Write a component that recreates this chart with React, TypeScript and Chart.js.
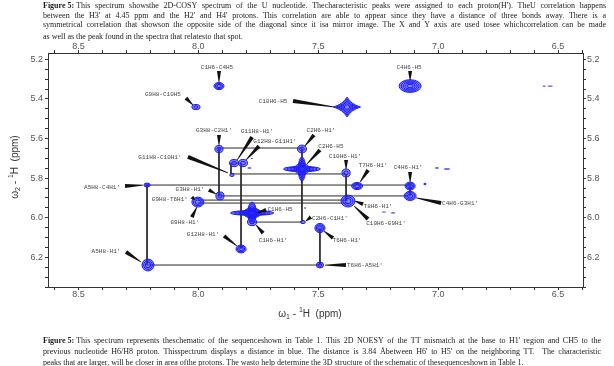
import { useEffect, useRef } from 'react';
import { Chart, registerables } from 'chart.js';
Chart.register(...registerables);

// ---------- axes ----------
const X_MAJOR_TICKS = [8.5, 8.0, 7.5, 7.0, 6.5];
const Y_MAJOR_TICKS = [5.2, 5.4, 5.6, 5.8, 6.0, 6.2];
const X_MIN = 6.396, X_MAX = 8.627;
const Y_MIN = 5.168, Y_MAX = 6.35;

// ---------- cross peaks (ppm) ----------
const PEAK_NAMES = [
  'C1H6-C4H5', 'G9H8-C10H5', 'C4H6-H5', 'C10H6-H5', "G3H8-C2H1'", "G11H8-H1'", "G12H8-G11H1'",
  "C2H6-H1'", 'C2H6-H5', "C10H6-H1'", "T7H6-H1'", "C4H6-H1'", "C4H6-G3H1'", "T8H6-H1'",
  "A5H8-C4H1'", "G3H8-H1'", 'G9H8', 'C1H6-H5', "C1H6-H1'", "G12H8-H1'", "A5H8-H1'",
  "C2H6-C1H1'", "T6H6-H1'", "T6H6-A5H1'", "G11H8-C10H1'",
];
const PEAK_X = [7.914, 8.010, 7.117, 7.380, 7.914, 7.851, 7.814, 7.568, 7.568, 7.384, 7.338, 7.117, 7.117, 7.376,
  8.214, 7.910, 8.002, 7.776, 7.776, 7.822, 8.210, 7.564, 7.493, 7.493, 7.860];
const PEAK_Y = [5.335, 5.441, 5.335, 5.441, 5.653, 5.724, 5.724, 5.653, 5.754, 5.774, 5.840, 5.840, 5.890, 5.916,
  5.835, 5.890, 5.921, 5.976, 6.022, 6.158, 6.239, 6.022, 6.052, 6.239, 5.784];
// half line-widths (ppm)
const PEAK_HW_X = [0.021, 0.017, 0.046, 0.056, 0.017, 0.019, 0.019, 0.019, 0.077, 0.017, 0.023, 0.021, 0.025, 0.029,
  0.013, 0.017, 0.025, 0.090, 0.019, 0.021, 0.025, 0.010, 0.021, 0.015, 0.009];
const PEAK_HW_Y = [0.018, 0.013, 0.032, 0.050, 0.018, 0.018, 0.018, 0.020, 0.061, 0.020, 0.018, 0.020, 0.023, 0.030,
  0.010, 0.020, 0.025, 0.055, 0.018, 0.020, 0.030, 0.008, 0.023, 0.015, 0.008];
// 0 = round, 1 = cross-shaped, 2 = diamond
const PEAK_SHAPE = [0, 0, 0, 2, 0, 0, 0, 0, 1, 0, 0, 0, 0, 0, 0, 0, 0, 1, 0, 0, 0, 0, 0, 0, 0];

// small unassigned contour fragments (ppm)
const NOISE_X = [6.558, 6.533, 7.005, 6.963, 7.055, 7.226, 7.188, 7.787, 7.777, 7.555];
const NOISE_Y = [5.335, 5.335, 5.749, 5.754, 5.830, 5.971, 5.976, 5.749, 5.701, 5.951];
const NOISE_HW_X = [0.007, 0.012, 0.009, 0.014, 0.006, 0.009, 0.009, 0.009, 0.005, 0.004];
const NOISE_HW_Y = [0.003, 0.003, 0.004, 0.004, 0.006, 0.003, 0.003, 0.004, 0.003, 0.004];

// ---------- assignments ----------
const ASSIGN_LABELS = [
  'C1H6-C4H5', 'G9H8-C10H5', 'C4H6-H5', 'C10H6-H5', "G3H8-C2H1'", "G11H8-H1'", "G12H8-G11H1'",
  "C2H6-H1'", 'C2H6-H5', "C10H6-H1'", "T7H6-H1'", "C4H6-H1'", "C4H6-G3H1'", "T8H6-H1'",
  "C10H6-G9H1'", "A5H8-C4H1'", "G3H8-H1'", "G9H8-T6H1'", "G9H8-H1'", 'C1H6-H5', "C1H6-H1'",
  "G12H8-H1'", "A5H8-H1'", "C2H6-C1H1'", "T6H6-H1'", "T6H6-A5H1'", "G11H8-C10H1'",
];
const ASSIGN_PEAK = [0, 1, 2, 3, 4, 5, 6, 7, 8, 9, 10, 11, 12, 13, 13, 14, 15, 16, 16, 17, 18, 19, 20, 21, 22, 23, 24];
// annotation layout (pixel offsets from the peak): label centre, leader start, leader end
const LABEL_LAYOUT = [
  [-2, -19, 0, -15, 0, -4], [-33, -13, -10, -9, -3, -2], [-1, -19, 0, -15, 0, -6], [-74, -6, -54, -6, -12, 0],
  [-5, -19, 0, -14, 0, -4], [23, -32, 18, -26, 3, -3], [32, -22, 16, -17, 3, -3],
  [19, -19, 12, -14, 3, -3], [29, -23, 18, -19, 5, -5], [-1, -17, 0, -13, 0, -4], [16, -21, 11, -16, 3, -4],
  [-2, -19, 0, -14, 0, -4], [50, 7, 31, 7, 6, 2], [30, 5, 15, 3, 7, 0],
  [38, 22, 20, 18, 6, 5], [-45, 2, -22, 1, -4, 0], [-30, -7, -11, -6, -4, -2], [-28, -3, -6, -5, -3, -2],
  [-13, 20, -6, 15, -1, 5], [28, -4, 14, -3, 5, 0], [21, 18, 11, 11, 4, 3],
  [-38, -15, -17, -13, -4, -3], [-42, -14, -22, -13, -7, -3], [27, -4, 8, -5, 3, -1], [27, 12, 13, 10, 4, 3],
  [45, 0, 26, 0, 5, 0], [-72, -18, -44, -18, -4, -2],
];

// ---------- sequential walk lines (ppm) ----------
const SEG_X1 = [7.914, 7.914, 7.568, 7.776, 7.864, 7.864, 7.864, 7.822, 7.384, 8.214, 7.117, 7.914, 8.002, 8.002, 8.214, 8.214, 7.493];
const SEG_Y1 = [5.648, 5.648, 5.648, 6.022, 5.724, 5.779, 5.724, 5.724, 5.779, 5.835, 5.835, 5.890, 5.911, 5.926, 5.835, 6.239, 6.052];
const SEG_X2 = [7.568, 7.914, 7.568, 7.568, 7.864, 7.384, 7.822, 7.822, 7.384, 7.117, 7.117, 7.117, 7.376, 7.376, 8.214, 7.493, 7.493];
const SEG_Y2 = [5.648, 5.890, 6.022, 6.022, 5.779, 5.779, 5.724, 6.158, 5.916, 5.835, 5.890, 5.890, 5.911, 5.926, 6.239, 6.239, 6.239];

// ---------- captions ----------
const TOP_CAPTION = [
  "This spectrum showsthe 2D-COSY spectrum of the U nucleotide. Thecharacteristic peaks were assigned to each proton(H'). TheU correlation happens",
  "between the H3' at 4.45 ppm and the H2' and H4' protons. This correlation are able to appear since they have a distance of three bonds away. There is a",
  "symmetrical correlation that showson the opposite side of the diagonal since it isa mirror image. The X and Y axis are used tosee whichcorrelation can be made",
  "as well as the peak found in the spectra that relatesto that spot.",
];
const BOTTOM_CAPTION = [
  "This spectrum represents theschematic of the sequenceshown in Table 1. This 2D NOESY of the TT mismatch at the base to H1' region and CH5 to the",
  "previous nucleotide H6/H8 proton. Thisspectrum displays a distance in blue. The distance is 3.84 Åbetween H6' to H5' on the neighboring TT.  The characteristic",
  "peaks that are larger, will be closer in area ofthe protons. The wasto help determine the 3D structure of the schematic of thesequenceshown in Table 1.",
];
const FIG_PREFIX = 'Figure 5:';

const SERIF = '"Liberation Serif", "DejaVu Serif", serif';
const SANS = '"Liberation Sans", Arial, sans-serif';
const MONO = '"Liberation Mono", "DejaVu Sans Mono", monospace';

function drawLine(ctx: CanvasRenderingContext2D, text: string, x: number, y: number, right: number, justify: boolean, prefix?: string) {
  let cx = x;
  if (prefix) {
    ctx.font = `bold 8px ${SERIF}`;
    ctx.fillText(prefix, cx, y);
    cx += ctx.measureText(prefix).width;
    ctx.font = `8px ${SERIF}`;
    cx += ctx.measureText(' ').width;
  }
  ctx.font = `8px ${SERIF}`;
  const width = right - cx;
  const words = text.split(' ');
  const ws = words.map((w) => ctx.measureText(w).width);
  const wordsW = ws.reduce((a, b) => a + b, 0);
  const spaceW = ctx.measureText(' ').width;
  const natural = wordsW + spaceW * (words.length - 1);
  if (natural > width) {
    ctx.save();
    ctx.translate(cx, y);
    ctx.scale(width / natural, 1);
    ctx.fillText(text, 0, 0);
    ctx.restore();
    return;
  }
  if (!justify) {
    ctx.fillText(text, cx, y);
    return;
  }
  const gap = (width - wordsW) / (words.length - 1);
  words.forEach((w, i) => {
    ctx.fillText(w, cx, y);
    cx += ws[i] + gap;
  });
}

function drawAxisTitle(ctx: CanvasRenderingContext2D, sub: string, cx: number, cy: number) {
  const parts = [
    { t: 'ω', s: 10, dy: 0 },
    { t: sub, s: 7, dy: 3 },
    { t: ' - ', s: 10, dy: 0 },
    { t: '1', s: 7, dy: -4 },
    { t: 'H  (ppm)', s: 10, dy: 0 },
  ];
  let total = 0;
  parts.forEach((p) => { ctx.font = `${p.s}px ${SANS}`; total += ctx.measureText(p.t).width; });
  let x = cx - total / 2;
  ctx.textBaseline = 'middle';
  ctx.textAlign = 'left';
  parts.forEach((p) => {
    ctx.font = `${p.s}px ${SANS}`;
    ctx.fillText(p.t, x, cy + p.dy);
    x += ctx.measureText(p.t).width;
  });
}

function peakPath(ctx: CanvasRenderingContext2D, cx: number, cy: number, a: number, b: number, diamond: boolean) {
  ctx.beginPath();
  if (diamond) {
    ctx.moveTo(cx - a, cy);
    ctx.quadraticCurveTo(cx - a * 0.3, cy - b * 0.3, cx, cy - b);
    ctx.quadraticCurveTo(cx + a * 0.3, cy - b * 0.3, cx + a, cy);
    ctx.quadraticCurveTo(cx + a * 0.3, cy + b * 0.3, cx, cy + b);
    ctx.quadraticCurveTo(cx - a * 0.3, cy + b * 0.3, cx - a, cy);
    ctx.closePath();
  } else {
    ctx.ellipse(cx, cy, Math.max(a, 0.5), Math.max(b, 0.5), 0, 0, Math.PI * 2);
  }
}

function contour(ctx: CanvasRenderingContext2D, cx: number, cy: number, a: number, b: number, diamond: boolean) {
  ctx.fillStyle = 'rgba(60,60,255,0.62)';
  peakPath(ctx, cx, cy, a, b, diamond);
  ctx.fill();
  ctx.strokeStyle = 'rgb(25,25,245)';
  ctx.lineWidth = 1;
  const m = Math.max(a, b);
  const levels = m > 9 ? [1, 0.82, 0.64, 0.46, 0.28] : m > 5 ? [1, 0.72, 0.44] : m > 2.5 ? [1, 0.5] : [1];
  levels.forEach((k) => {
    peakPath(ctx, cx, cy, a * k, b * k, diamond);
    ctx.stroke();
  });
}

const overlayPlugin = {
  id: 'nmrOverlay',
  afterDatasetsDraw(chart: any) {
    const ctx: CanvasRenderingContext2D = chart.ctx;
    const xs = chart.scales.x;
    const ys = chart.scales.y;
    const area = chart.chartArea;
    const dsIndex = chart.data.datasets.findIndex((d: any) => d.label === 'peaks');
    const meta = chart.getDatasetMeta(dsIndex);
    const rx = (x: number, hw: number) => Math.abs(xs.getPixelForValue(x + hw) - xs.getPixelForValue(x));
    const ry = (y: number, hw: number) => Math.abs(ys.getPixelForValue(y + hw) - ys.getPixelForValue(y));

    ctx.save();
    ctx.beginPath();
    ctx.rect(area.left, area.top, area.right - area.left, area.bottom - area.top);
    ctx.clip();

    // unassigned fragments
    NOISE_X.forEach((x, i) => {
      const px = xs.getPixelForValue(x);
      const py = ys.getPixelForValue(NOISE_Y[i]);
      ctx.fillStyle = 'rgb(50,50,255)';
      ctx.beginPath();
      ctx.ellipse(px, py, rx(x, NOISE_HW_X[i]), ry(NOISE_Y[i], NOISE_HW_Y[i]), 0, 0, Math.PI * 2);
      ctx.fill();
    });

    // peaks
    meta.data.forEach((el: any, i: number) => {
      const a = rx(PEAK_X[i], PEAK_HW_X[i]);
      const b = ry(PEAK_Y[i], PEAK_HW_Y[i]);
      if (PEAK_SHAPE[i] === 1) {
        contour(ctx, el.x, el.y, a, b * 0.22, false);
        contour(ctx, el.x, el.y, a * 0.2, b, false);
        contour(ctx, el.x, el.y, a * 0.42, b * 0.45, false);
      } else {
        contour(ctx, el.x, el.y, a, b, PEAK_SHAPE[i] === 2);
      }
    });

    // leaders and labels
    ASSIGN_LABELS.forEach((label, i) => {
      const el = meta.data[ASSIGN_PEAK[i]];
      const [lx, ly, sx, sy, ex, ey] = LABEL_LAYOUT[i];
      const x1 = el.x + sx, y1 = el.y + sy, x2 = el.x + ex, y2 = el.y + ey;
      const len = Math.hypot(x2 - x1, y2 - y1) || 1;
      const nx = -(y2 - y1) / len, ny = (x2 - x1) / len;
      const w1 = 2.0, w2 = 0.35;
      ctx.fillStyle = '#111';
      ctx.beginPath();
      ctx.moveTo(x1 + nx * w1, y1 + ny * w1);
      ctx.lineTo(x2 + nx * w2, y2 + ny * w2);
      ctx.lineTo(x2 - nx * w2, y2 - ny * w2);
      ctx.lineTo(x1 - nx * w1, y1 - ny * w1);
      ctx.closePath();
      ctx.fill();
      ctx.font = `6px ${MONO}`;
      ctx.fillStyle = '#444';
      ctx.textAlign = 'center';
      ctx.textBaseline = 'middle';
      ctx.fillText(label, el.x + lx, el.y + ly);
    });
    ctx.restore();
  },
  afterDraw(chart: any) {
    const ctx: CanvasRenderingContext2D = chart.ctx;
    ctx.save();
    ctx.fillStyle = '#1a1a1a';
    ctx.textBaseline = 'middle';
    ctx.textAlign = 'left';
    const topY = [6, 15.5, 25, 37];
    TOP_CAPTION.forEach((t, i) => drawLine(ctx, t, 43, topY[i], 606, i < 3, i === 0 ? FIG_PREFIX : undefined));
    const botY = [340.5, 351.5, 363];
    BOTTOM_CAPTION.forEach((t, i) => drawLine(ctx, t, 43, botY[i], 601, i < 2, i === 0 ? FIG_PREFIX : undefined));
    ctx.fillStyle = '#333';
    drawAxisTitle(ctx, '1', 310, 314);
    ctx.save();
    ctx.translate(15, 167);
    ctx.rotate(-Math.PI / 2);
    drawAxisTitle(ctx, '2', 0, 0);
    ctx.restore();
    ctx.restore();
  },
};

function axis(pos: string, isX: boolean, size: number, pad: number) {
  const majors = isX ? X_MAJOR_TICKS : Y_MAJOR_TICKS;
  return {
    type: 'linear',
    position: pos,
    min: isX ? X_MIN : Y_MIN,
    max: isX ? X_MAX : Y_MAX,
    reverse: true,
    ticks: {
      stepSize: isX ? 0.1 : 0.05,
      includeBounds: false,
      autoSkip: false,
      maxRotation: 0,
      minRotation: 0,
      padding: pad,
      color: '#555',
      font: { family: SANS, size: 9 },
      callback: (v: number) => (majors.some((m) => Math.abs(m - v) < 1e-6) ? v.toFixed(1) : ''),
    },
    grid: { drawOnChartArea: false, drawTicks: true, tickLength: 3, color: '#333', lineWidth: 1 },
    border: { display: true, color: '#333', width: 1 },
    afterFit: (s: any) => {
      if (isX) s.height = size; else s.width = size;
    },
  };
}

export default function App() {
  const ref = useRef<HTMLCanvasElement>(null);
  useEffect(() => {
    const canvas = ref.current;
    if (!canvas) return;
    const datasets: any[] = SEG_X1.map((x1, i) => ({
      label: 'walk' + i,
      data: [{ x: x1, y: SEG_Y1[i] }, { x: SEG_X2[i], y: SEG_Y2[i] }],
      showLine: true,
      borderColor: '#2a2a2a',
      borderWidth: 1,
      pointRadius: 0,
      xAxisID: 'x',
      yAxisID: 'y',
    }));
    datasets.push({
      label: 'peaks',
      data: PEAK_X.map((x, i) => ({ x, y: PEAK_Y[i] })),
      pointRadius: 0,
      showLine: false,
      xAxisID: 'x',
      yAxisID: 'y',
    });
    const chart = new Chart(canvas, {
      type: 'scatter',
      data: { datasets },
      options: {
        responsive: false,
        animation: false,
        devicePixelRatio: 1,
        layout: { padding: 0 },
        plugins: { legend: { display: false }, tooltip: { enabled: false }, title: { display: false } },
        scales: {
          x: axis('bottom', true, 79, -1),
          x2: axis('top', true, 53, -2),
          y: axis('left', false, 48, 2),
          y2: axis('right', false, 31, 1),
        } as any,
      },
      plugins: [overlayPlugin],
    } as any);
    return () => chart.destroy();
  }, []);
  return (
    <div style={{ position: 'fixed', left: 0, top: 0, width: 614, height: 366, background: '#fff' }}>
      <canvas ref={ref} width={614} height={366} style={{ display: 'block' }} />
    </div>
  );
}
